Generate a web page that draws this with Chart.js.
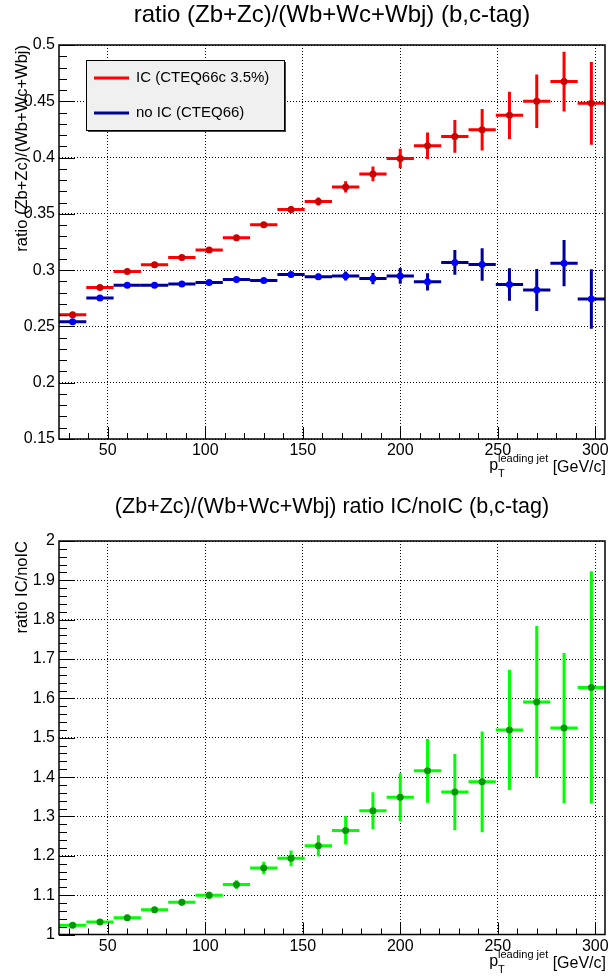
<!DOCTYPE html>
<html>
<head>
<meta charset="utf-8">
<script src="https://cdn.jsdelivr.net/npm/chart.js@4.4.1/dist/chart.umd.min.js"></script>
<style>
  body { margin: 0; background: #fff; }
  canvas { position: absolute; left: 0; }
</style>
</head>
<body>
<canvas id="top" width="609" height="490" style="top:0"></canvas>
<canvas id="bottom" width="609" height="489" style="top:490px"></canvas>
<script>
// bin centres in pT (GeV/c), each bin is 14 GeV wide
const ptCenters = [32, 46, 60, 74, 88, 102, 116, 130, 144, 158, 172, 186, 200, 214, 228, 242, 256, 270, 284, 298];
const binHalfWidth = 7;

// (Zb+Zc)/(Wb+Wc+Wbj) with intrinsic charm
const icRatio = [0.2604, 0.2845, 0.2988, 0.3048, 0.3113, 0.3179, 0.3288, 0.3403, 0.3539, 0.3610,
                 0.3739, 0.3855, 0.3992, 0.4105, 0.4188, 0.4247, 0.4375, 0.4500, 0.4675, 0.4482];
const icErr = [0.0010, 0.0012, 0.0014, 0.0016, 0.0018, 0.0020, 0.0022, 0.0025, 0.0028, 0.0036,
               0.0050, 0.0065, 0.0086, 0.0117, 0.0146, 0.0184, 0.0210, 0.0238, 0.0266, 0.0368];

// same ratio without intrinsic charm
const noIcRatio = [0.2542, 0.2753, 0.2866, 0.2866, 0.2878, 0.2890, 0.2917, 0.2908, 0.2961, 0.2942,
                   0.2949, 0.2925, 0.2949, 0.2896, 0.3068, 0.3050, 0.2872, 0.2824, 0.3062, 0.2744];
const noIcErr = [0.0009, 0.0011, 0.0012, 0.0013, 0.0014, 0.0016, 0.0018, 0.0020, 0.0022, 0.0026,
                 0.0040, 0.0050, 0.0070, 0.0077, 0.0110, 0.0144, 0.0144, 0.0187, 0.0205, 0.0265];

// IC / noIC
const icOverNoIc = [1.0237, 1.0320, 1.0423, 1.0626, 1.0820, 1.0997, 1.1268, 1.1690, 1.1936, 1.2255,
                    1.2644, 1.3144, 1.3490, 1.4160, 1.3620, 1.3880, 1.5200, 1.5907, 1.5246, 1.6280];
const icOverNoIcErr = [0.004, 0.005, 0.006, 0.007, 0.008, 0.009, 0.011, 0.016, 0.020, 0.027,
                       0.036, 0.047, 0.061, 0.081, 0.097, 0.128, 0.153, 0.193, 0.191, 0.295];

const xTickLabels = [50, 100, 150, 200, 250, 300];
const topYTicks = [0.15, 0.2, 0.25, 0.3, 0.35, 0.4, 0.45, 0.5];
const bottomYTicks = [1, 1.1, 1.2, 1.3, 1.4, 1.5, 1.6, 1.7, 1.8, 1.9, 2];

const FONT = "'Liberation Sans', Arial, Helvetica, sans-serif";

function points(ys) {
  return ptCenters.map((x, i) => ({ x: x, y: ys[i] }));
}

// error bars, inner ticks, frame, titles and legend in the ROOT look
const rootLook = {
  id: 'rootLook',
  beforeDatasetsDraw(chart) {
    const ctx = chart.ctx, xs = chart.scales.x, ys = chart.scales.y;
    ctx.save();
    ctx.lineWidth = 3;
    ctx.lineCap = 'butt';
    chart.data.datasets.forEach(ds => {
      ctx.strokeStyle = ds.barColor;
      ds.data.forEach((p, i) => {
        const px = xs.getPixelForValue(p.x), py = ys.getPixelForValue(p.y);
        ctx.beginPath();
        ctx.moveTo(xs.getPixelForValue(p.x - binHalfWidth), py);
        ctx.lineTo(xs.getPixelForValue(p.x + binHalfWidth), py);
        ctx.moveTo(px, ys.getPixelForValue(p.y - ds.errors[i]));
        ctx.lineTo(px, ys.getPixelForValue(p.y + ds.errors[i]));
        ctx.stroke();
      });
    });
    ctx.restore();
  },
  afterDraw(chart, args, opts) {
    const ctx = chart.ctx, xs = chart.scales.x, ys = chart.scales.y;
    const a = chart.chartArea;
    ctx.save();
    ctx.strokeStyle = '#000';
    ctx.lineWidth = 1;
    ctx.beginPath();
    // x ticks every 10 GeV, long ones at the labels
    for (let v = 30; v <= 300; v += 10) {
      const px = Math.round(xs.getPixelForValue(v)) + 0.5;
      const len = v % 50 === 0 ? 12 : 6;
      ctx.moveTo(px, a.bottom);
      ctx.lineTo(px, a.bottom - len);
    }
    // y ticks
    const m = opts.yMinor;
    for (let i = 0; i <= m.n; i++) {
      const py = Math.round(ys.getPixelForValue(m.from + i * m.step)) + 0.5;
      const len = i % 5 === 0 ? 16 : 8;
      ctx.moveTo(a.left, py);
      ctx.lineTo(a.left + len, py);
    }
    ctx.stroke();

    // frame
    ctx.lineWidth = 1.5;
    ctx.strokeRect(a.left, a.top, a.right - a.left, a.bottom - a.top);

    // title
    ctx.fillStyle = '#000';
    ctx.font = opts.titleSize + 'px ' + FONT;
    ctx.textAlign = 'center';
    ctx.textBaseline = 'middle';
    ctx.fillText(opts.title, (a.left + a.right) / 2, opts.titleY);

    // y title, rotated, ending at the top of the frame
    ctx.save();
    ctx.translate(22, a.top);
    ctx.rotate(-Math.PI / 2);
    ctx.font = '16.5px ' + FONT;
    ctx.textAlign = 'right';
    ctx.fillText(opts.yTitle, 0, 0);
    ctx.restore();

    // x title: p_T^{leading jet} [GeV/c]
    const yb = a.bottom + 29;
    ctx.textAlign = 'left';
    ctx.font = '16px ' + FONT;
    const unit = ' [GeV/c]';
    const wUnit = ctx.measureText(unit).width;
    ctx.font = '11px ' + FONT;
    const wSup = ctx.measureText('leading jet').width;
    ctx.font = '16px ' + FONT;
    const wP = ctx.measureText('p').width;
    let x0 = 606 - wUnit - wSup - wP;
    ctx.fillText('p', x0, yb - 2);
    ctx.font = '11px ' + FONT;
    ctx.fillText('T', x0 + wP, yb + 6);
    ctx.fillText('leading jet', x0 + wP, yb - 9);
    ctx.font = '16px ' + FONT;
    ctx.fillText(unit, x0 + wP + wSup, yb);

    // legend box
    if (opts.legend) {
      const L = opts.legend;
      ctx.fillStyle = '#444';
      ctx.fillRect(L.x + 2, L.y + 2, L.w, L.h);
      ctx.fillStyle = '#f0f0f0';
      ctx.fillRect(L.x, L.y, L.w, L.h);
      ctx.lineWidth = 1;
      ctx.strokeStyle = '#000';
      ctx.strokeRect(L.x + 0.5, L.y + 0.5, L.w, L.h);
      ctx.font = '15px ' + FONT;
      ctx.textAlign = 'left';
      ctx.textBaseline = 'middle';
      chart.data.datasets.forEach((ds, i) => {
        const ly = L.y + 18 + i * 35;
        ctx.strokeStyle = ds.barColor;
        ctx.lineWidth = 3;
        ctx.beginPath();
        ctx.moveTo(L.x + 8, ly);
        ctx.lineTo(L.x + 43, ly);
        ctx.stroke();
        ctx.fillStyle = '#000';
        ctx.fillText(ds.label, L.x + 50, ly);
      });
    }
    ctx.restore();
  }
};

function makeChart(id, datasets, yMin, yMax, yTicks, look, padTop, xHeight) {
  return new Chart(document.getElementById(id), {
    type: 'scatter',
    data: { datasets: datasets },
    options: {
      responsive: false,
      animation: false,
      devicePixelRatio: 1,
      layout: { padding: { top: padTop, right: 2, left: 0, bottom: 0 } },
      plugins: { legend: { display: false }, tooltip: { enabled: false }, rootLook: look },
      scales: {
        x: {
          type: 'linear', min: 25, max: 305,
          afterBuildTicks: s => { s.ticks = xTickLabels.map(v => ({ value: v })); },
          afterFit: s => { s.height = xHeight; s.paddingLeft = 0; s.paddingRight = 0; },
          ticks: { autoSkip: false, maxRotation: 0, padding: 2, color: '#000', font: { family: FONT, size: 16 } },
          grid: { color: '#000', lineWidth: 1, drawTicks: false },
          border: { display: false, dash: [1, 2] }
        },
        y: {
          type: 'linear', min: yMin, max: yMax,
          afterBuildTicks: s => { s.ticks = yTicks.map(v => ({ value: v })); },
          afterFit: s => { s.width = 59; s.paddingTop = 0; s.paddingBottom = 0; },
          ticks: { autoSkip: false, padding: 4, color: '#000', font: { family: FONT, size: 16 },
                   callback: v => String(+v.toFixed(2)) },
          grid: { color: '#000', lineWidth: 1, drawTicks: false },
          border: { display: false, dash: [1, 2] }
        }
      }
    },
    plugins: [rootLook]
  });
}

makeChart('top', [
  { label: 'IC (CTEQ66c 3.5%)', data: points(icRatio), errors: icErr, barColor: '#ff0000',
    pointRadius: 3.5, pointBorderWidth: 0, pointBackgroundColor: '#cc0000' },
  { label: 'no IC (CTEQ66)', data: points(noIcRatio), errors: noIcErr, barColor: '#000099',
    pointRadius: 3.5, pointBorderWidth: 0, pointBackgroundColor: '#0000ff' }
], 0.15, 0.5, topYTicks, {
  title: 'ratio (Zb+Zc)/(Wb+Wc+Wbj) (b,c-tag)', titleY: 15, titleSize: 24,
  yTitle: 'ratio (Zb+Zc)/(Wb+Wc+Wbj)',
  yMinor: { from: 0.15, step: 0.01, n: 35 },
  legend: { x: 86, y: 60, w: 198, h: 70 }
}, 45, 51);

makeChart('bottom', [
  { label: 'IC/noIC', data: points(icOverNoIc), errors: icOverNoIcErr, barColor: '#00ff00',
    pointRadius: 3.5, pointBorderWidth: 0, pointBackgroundColor: '#009900' }
], 1, 2, bottomYTicks, {
  title: '(Zb+Zc)/(Wb+Wc+Wbj) ratio IC/noIC (b,c-tag)', titleY: 17, titleSize: 21.5,
  yTitle: 'ratio IC/noIC',
  yMinor: { from: 1, step: 0.02, n: 50 }
}, 51, 44.5);
</script>
</body>
</html>
